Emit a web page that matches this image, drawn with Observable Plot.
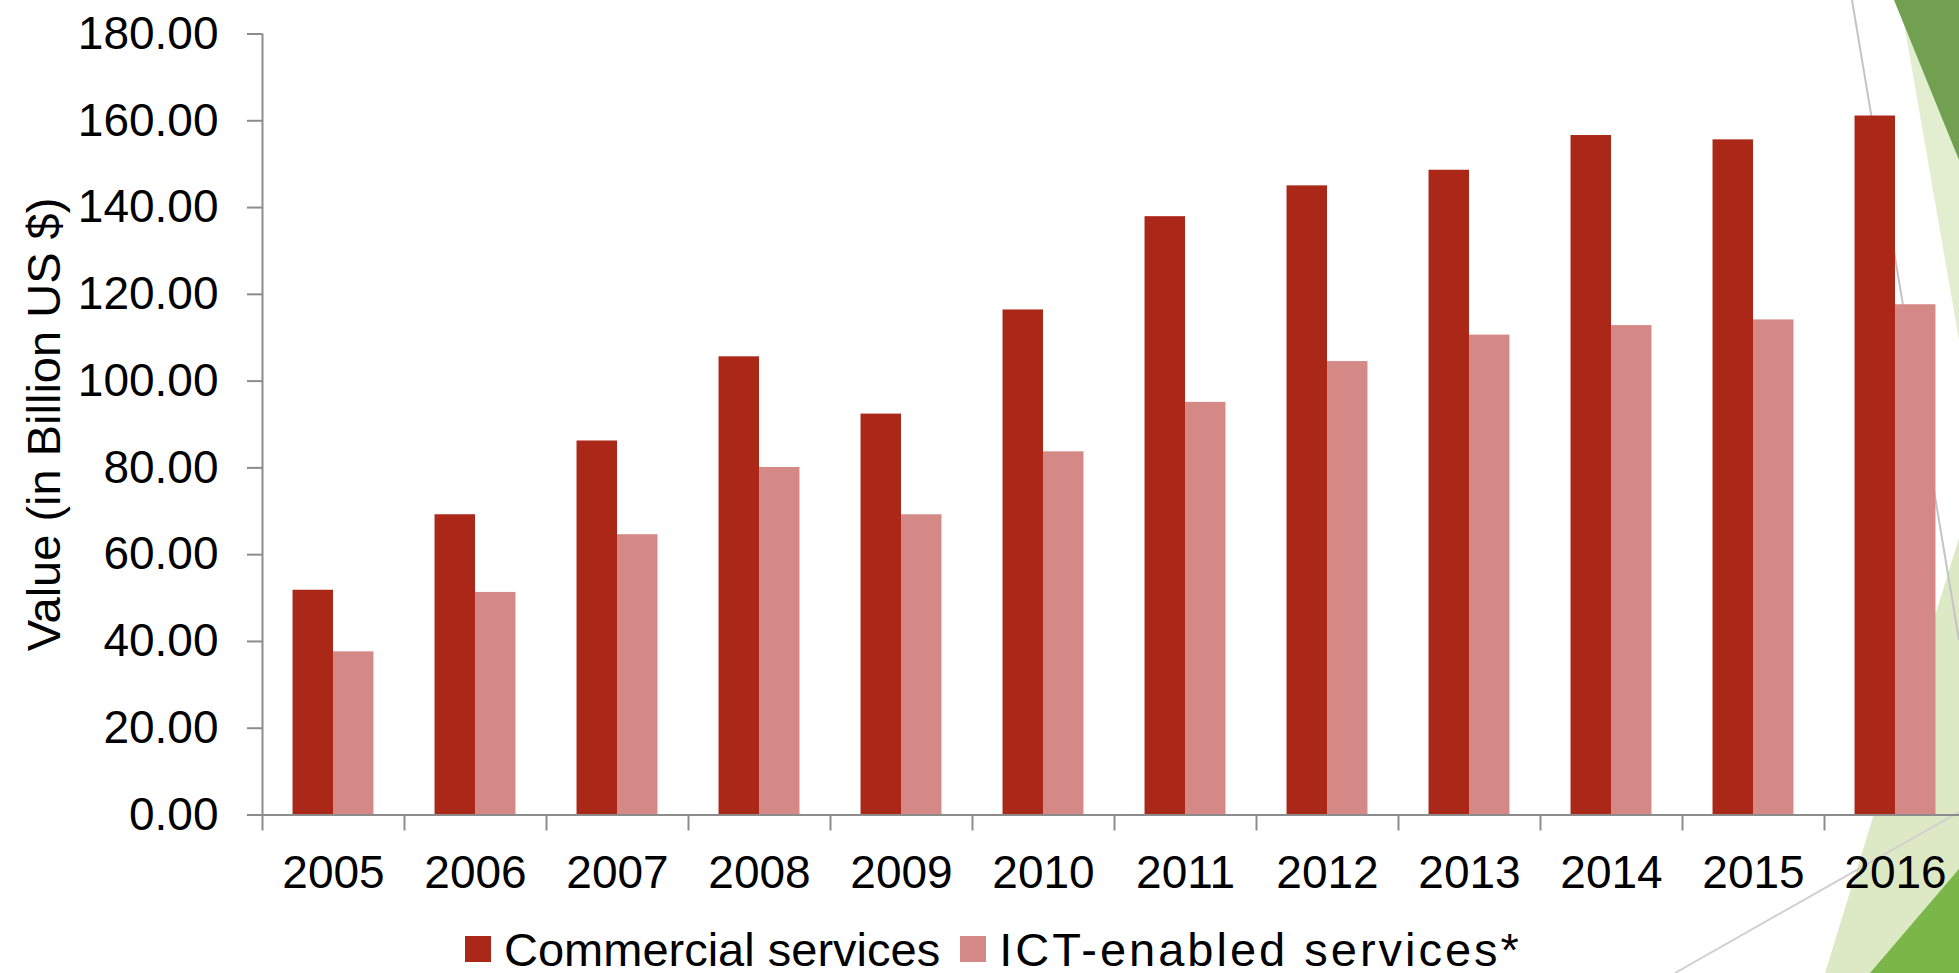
<!DOCTYPE html>
<html>
<head>
<meta charset="utf-8">
<script src="https://cdn.jsdelivr.net/npm/d3@7"></script>
<script src="https://cdn.jsdelivr.net/npm/@observablehq/plot@0.6"></script>
<style>
  html, body { margin: 0; padding: 0; background: #ffffff; width: 1959px; height: 973px; overflow: hidden;
    font-family: "Liberation Sans", Arial, sans-serif; }
  #deco { position: absolute; left: 0; top: 0; z-index: 0; }
  #chart { position: absolute; left: 0; top: 0; z-index: 1; }
  #legend { position: absolute; left: 465px; top: 925px; height: 48px; z-index: 2;
    display: flex; align-items: center; font-size: 47px; color: #000; white-space: nowrap; }
  .item { display: flex; align-items: center; }
  .sw { width: 26px; height: 26px; margin-right: 13px; }
</style>
</head>
<body>
<svg id="deco" width="1959" height="973" viewBox="0 0 1959 973">
  <polygon points="1900,0 1959,0 1959,340" fill="#e3edcf"/>
  <polygon points="1894,0 1959,0 1959,160" fill="#70a050"/>
  <polygon points="1959,538 1959,973 1825,973" fill="#dde9c4"/>
  <polygon points="1959,869 1959,973 1870,973" fill="#7ab648"/>
  <line x1="1852" y1="0" x2="1959" y2="640" stroke="#c4c4c4" stroke-width="2"/>
  <line x1="1675" y1="973" x2="1959" y2="812" stroke="#d0d0d0" stroke-width="2"/>
</svg>
<div id="chart"></div>
<div id="legend"></div>
<script>
// ---- data ----
const years = [2005, 2006, 2007, 2008, 2009, 2010, 2011, 2012, 2013, 2014, 2015, 2016];
const commercial = [51.8, 69.2, 86.2, 105.6, 92.4, 116.4, 137.9, 145.0, 148.6, 156.6, 155.6, 161.1];
const ictEnabled = [37.6, 51.3, 64.6, 80.1, 69.2, 83.7, 95.1, 104.5, 110.6, 112.8, 114.1, 117.6];
const seriesNames = ["Commercial services", "ICT-enabled services*"];
const seriesColors = ["#ab2718", "#d48987"];
const yTicks = [0, 20, 40, 60, 80, 100, 120, 140, 160, 180];
const yTitle = "Value (in Billion US $)";

// ---- build table ----
const rows = years.flatMap((yr, i) => [
  {year: yr, series: seriesNames[0], value: commercial[i]},
  {year: yr, series: seriesNames[1], value: ictEnabled[i]}
]);
const half = 0.285; // width of one bar in category units
const boundaries = years.map(y => y - 0.5).concat([years[years.length - 1] + 0.5]);

const axisGray = "#8c8c8c";

const chart = Plot.plot({
  width: 1959,
  height: 925,
  marginLeft: 262,
  marginRight: -7,
  marginTop: 33.5,
  marginBottom: 110.5,
  style: {background: "transparent", fontFamily: "'Liberation Sans', Arial, sans-serif", color: "#000"},
  x: {type: "linear", domain: [years[0] - 0.5, years[years.length - 1] + 0.5], axis: null, label: null},
  y: {domain: [0, 180], axis: null, label: null},
  color: {domain: seriesNames, range: seriesColors},
  marks: [
    Plot.rectY(rows, {
      x1: d => d.series === seriesNames[0] ? d.year - half : d.year,
      x2: d => d.series === seriesNames[0] ? d.year : d.year + half,
      y: "value",
      fill: "series"
    }),
    Plot.ruleY([0], {stroke: axisGray, strokeWidth: 2}),
    Plot.ruleX([years[0] - 0.5], {stroke: axisGray, strokeWidth: 2}),
    Plot.axisY(yTicks, {tickSize: 15, tickFormat: () => "", stroke: axisGray, strokeWidth: 2, label: null}),
    Plot.axisY(yTicks, {tickSize: 0, tickPadding: 44, tickFormat: d3.format(".2f"), fontSize: 46, fill: "#000", label: null}),
    Plot.axisX(boundaries, {tickSize: 16, tickFormat: () => "", stroke: axisGray, strokeWidth: 2, label: null}),
    Plot.axisX(years, {tickSize: 0, tickPadding: 40, tickFormat: d => String(d), fontSize: 46, fill: "#000", label: null}),
    Plot.text([yTitle], {frameAnchor: "left", textAnchor: "middle", lineAnchor: "middle", rotate: -90, dx: -218, fontSize: 47, fill: "#000"})
  ]
});
document.getElementById("chart").appendChild(chart);

// ---- legend ----
const legend = document.getElementById("legend");
seriesNames.forEach((name, i) => {
  const item = document.createElement("div");
  item.className = "item";
  if (i > 0) item.style.marginLeft = "20px";
  const sw = document.createElement("div");
  sw.className = "sw";
  sw.style.background = seriesColors[i];
  const label = document.createElement("span");
  label.textContent = name;
  if (i > 0) label.style.letterSpacing = "3px";
  item.appendChild(sw);
  item.appendChild(label);
  legend.appendChild(item);
});
</script>
</body>
</html>
